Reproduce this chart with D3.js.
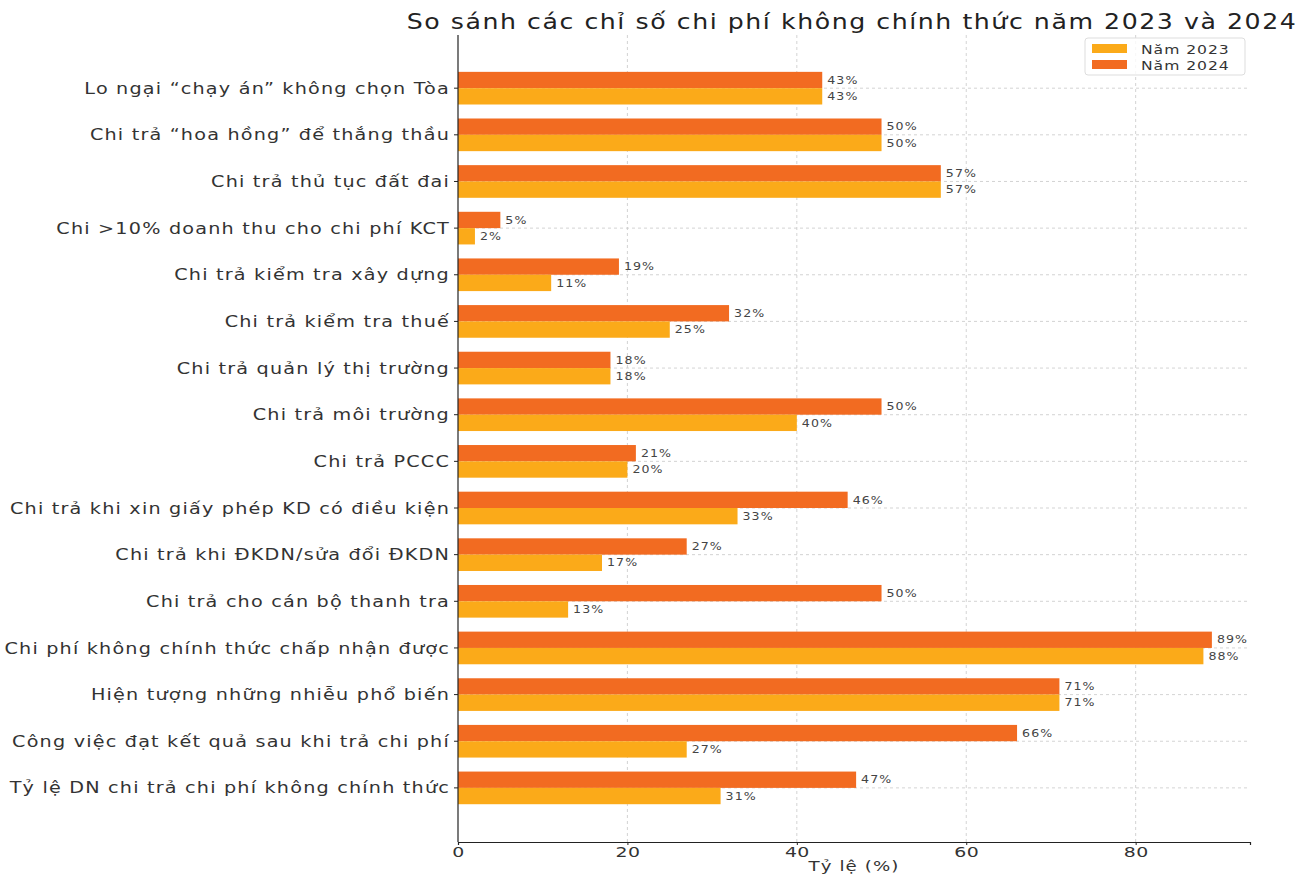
<!DOCTYPE html>
<html><head><meta charset="utf-8">
<script src="https://cdn.jsdelivr.net/npm/d3@7"></script>
<style>
body{margin:0;background:#fff;}
text{font-family:"DejaVu Sans",sans-serif;}
</style></head>
<body><svg id="c" width="1307" height="874"></svg>
<script>
const categories = [
 "Lo ngại “chạy án” không chọn Tòa",
 "Chi trả “hoa hồng” để thắng thầu",
 "Chi trả thủ tục đất đai",
 "Chi >10% doanh thu cho chi phí KCT",
 "Chi trả kiểm tra xây dựng",
 "Chi trả kiểm tra thuế",
 "Chi trả quản lý thị trường",
 "Chi trả môi trường",
 "Chi trả PCCC",
 "Chi trả khi xin giấy phép KD có điều kiện",
 "Chi trả khi ĐKDN/sửa đổi ĐKDN",
 "Chi trả cho cán bộ thanh tra",
 "Chi phí không chính thức chấp nhận được",
 "Hiện tượng những nhiễu phổ biến",
 "Công việc đạt kết quả sau khi trả chi phí",
 "Tỷ lệ DN chi trả chi phí không chính thức"
];
const values2024 = [43,50,57,5,19,32,18,50,21,46,27,50,89,71,66,47];
const values2023 = [43,50,57,2,11,25,18,40,20,33,17,13,88,71,27,31];
const xTicks = [0,20,40,60,80];
const seriesNames = ["Năm 2023","Năm 2024"];
const colors = {"Năm 2023":"#FBAA19","Năm 2024":"#F26B21"};

const svg = d3.select("#c");
const L=458, R=1250, T=35, B=842;
const x = d3.scaleLinear().domain([0, 93.5]).range([L, R]);
const y = d3.scaleLinear().domain([-1.14, categories.length - 1 + 1.16]).range([T, B]);
const bh = 0.35;
const SX = 1.2;
function place(sel, fx, fy){ return sel.attr("transform",(d,i)=>`translate(${fx(d,i)},${fy(d,i)}) scale(${SX},1)`); }

// grid
const g = svg.append("g");
g.selectAll("line.vg").data(xTicks.filter(d=>d>0)).enter().append("line")
 .attr("x1",d=>x(d)).attr("x2",d=>x(d)).attr("y1",T).attr("y2",B)
 .attr("stroke","#c8c8c8").attr("stroke-width",0.8).attr("stroke-dasharray","3,3");
g.selectAll("line.hg").data(categories).enter().append("line")
 .attr("x1",L).attr("x2",R).attr("y1",(d,i)=>y(i)).attr("y2",(d,i)=>y(i))
 .attr("stroke","#c8c8c8").attr("stroke-width",0.8).attr("stroke-dasharray","3,3");

// bars
const bars = svg.append("g");
bars.selectAll("rect.b24").data(values2024).enter().append("rect")
 .attr("x",x(0)).attr("y",(d,i)=>y(i-bh)).attr("width",d=>x(d)-x(0)).attr("height",y(bh)-y(0))
 .attr("fill",colors["Năm 2024"]);
bars.selectAll("rect.b23").data(values2023).enter().append("rect")
 .attr("x",x(0)).attr("y",(d,i)=>y(i)).attr("width",d=>x(d)-x(0)).attr("height",y(bh)-y(0))
 .attr("fill",colors["Năm 2023"]);

// value labels
const lab = svg.append("g").attr("font-size","10.5px").attr("fill","#444").attr("letter-spacing","0.9px");
place(lab.selectAll("text.l24").data(values2024).enter().append("text"),
 d=>x(d)+5, (d,i)=>y(i-bh/2)).attr("dy","0.35em").text(d=>d+"%");
place(lab.selectAll("text.l23").data(values2023).enter().append("text"),
 d=>x(d)+5, (d,i)=>y(i+bh/2)).attr("dy","0.35em").text(d=>d+"%");

// axes
const yax = svg.append("g");
yax.append("line").attr("x1",L).attr("x2",L).attr("y1",T).attr("y2",B).attr("stroke","#222").attr("stroke-width",1.2);
yax.selectAll("line.t").data(categories).enter().append("line")
 .attr("x1",L-4).attr("x2",L).attr("y1",(d,i)=>y(i)).attr("y2",(d,i)=>y(i)).attr("stroke","#222");
place(yax.selectAll("text").data(categories).enter().append("text"), ()=>L-8, (d,i)=>y(i))
 .attr("dy","0.35em").attr("text-anchor","end")
 .attr("font-size","16px").attr("letter-spacing","1px").attr("fill","#333").text(d=>d);

const xax = svg.append("g").attr("transform",`translate(0,${B})`)
 .call(d3.axisBottom(x).tickValues(xTicks).tickSize(3).tickPadding(3).tickFormat(d3.format("d")));
xax.select(".domain").attr("stroke","#222").attr("stroke-width",1.2);
xax.selectAll(".tick line").attr("stroke","#222");
xax.selectAll(".tick text").attr("font-size","13.5px").attr("fill","#333").attr("letter-spacing","0.3px")
 .attr("font-family","DejaVu Sans").attr("x",0).attr("y",0).attr("dy",0)
 .attr("transform",`translate(0,15) scale(1.4,1)`);
svg.append("text").attr("transform",`translate(${(L+R)/2},870.5) scale(1.35,1)`).attr("text-anchor","middle")
 .attr("font-size","13.5px").attr("fill","#333").attr("letter-spacing","0.8px").text("Tỷ lệ (%)");

// title
svg.append("text").attr("transform",`translate(852,29) scale(${SX},1)`).attr("text-anchor","middle")
 .attr("font-size","21px").attr("fill","#222").attr("letter-spacing","1.3px")
 .text("So sánh các chỉ số chi phí không chính thức năm 2023 và 2024");

// legend
const lg = svg.append("g");
lg.append("rect").attr("x",1085).attr("y",38).attr("width",160).attr("height",37).attr("rx",3)
 .attr("fill","#fff").attr("fill-opacity",0.8).attr("stroke","#ddd");
seriesNames.forEach((s,i)=>{
 lg.append("rect").attr("x",1092).attr("y",44+i*16).attr("width",35).attr("height",9).attr("fill",colors[s]);
 lg.append("text").attr("transform",`translate(1141,${49+i*16}) scale(${SX},1)`).attr("dy","0.35em").attr("font-size","13px")
  .attr("fill","#333").attr("letter-spacing","0.8px").text(s);
});
</script></body></html>
